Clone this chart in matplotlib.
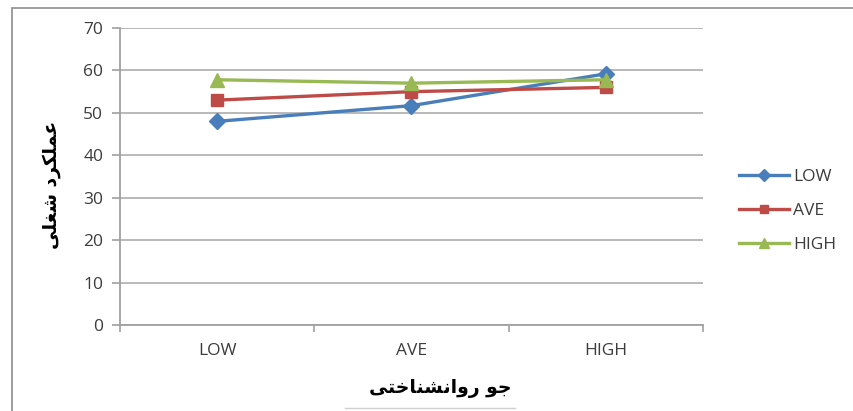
import matplotlib
matplotlib.use('Agg')
import matplotlib.pyplot as plt
from matplotlib.patches import Rectangle
from matplotlib.lines import Line2D

categories = ['LOW', 'AVE', 'HIGH']
low = [48, 51.7, 59.2]
ave = [53, 55, 56]
high = [57.8, 57, 57.8]
series_names = ['LOW', 'AVE', 'HIGH']

# Persian labels in presentation forms (matplotlib has no shaping), reversed for display
xlabel_shaped = '\uFE9F\uFEEE \uFEAD\uFEED\uFE8D\uFEE7\uFEB8\uFEE8\uFE8E\uFEA7\uFE98\uFBFD'
ylabel_shaped = '\uFECB\uFEE4\uFEE0\uFB91\uFEAE\uFEA9 \uFEB7\uFED0\uFEE0\uFBFD'

W, H = 854, 411
fig = plt.figure(figsize=(W / 100, H / 100), dpi=100)
fig.patch.set_facecolor('white')

# outer chart frame
fig.add_artist(Rectangle((12 / W, -0.1), 1.1, (H - 8) / H + 0.1, transform=fig.transFigure,
                         fill=False, edgecolor='#8c8c8c', linewidth=1.2))
fig.add_artist(Line2D([345 / W, 515 / W], [3 / H, 3 / H], transform=fig.transFigure,
                      color='#d0d0d0', linewidth=1))

ax = fig.add_axes([120 / W, (H - 325) / H, 583 / W, 297 / H])
x = [0, 1, 2]
ax.plot(x, low, color='#4a7ebb', lw=2.4, marker='D', ms=8.5, label=series_names[0])
ax.plot(x, ave, color='#be4b48', lw=2.4, marker='s', ms=8.5, label=series_names[1])
ax.plot(x, high, color='#98b954', lw=2.4, marker='^', ms=10, label=series_names[2])

ax.set_xlim(-0.5, 2.5)
ax.set_ylim(0, 70)
ax.set_yticks(range(0, 71, 10))
ax.set_xticks(x)
ax.set_xticklabels(categories)
ax.set_xticks([-0.5, 0.5, 1.5, 2.5], minor=True)
ax.tick_params(axis='x', which='major', length=0, pad=13)
ax.tick_params(axis='x', which='minor', length=5, color='#a0a0a0', width=1.2)
ax.tick_params(axis='y', length=6, color='#a0a0a0', width=1.2, pad=6)
for lab in ax.get_xticklabels() + ax.get_yticklabels():
    lab.set_fontfamily('Open Sans')
    lab.set_fontsize(12.5)
    lab.set_fontweight('medium')
    lab.set_color('#3c3c3c')

ax.yaxis.grid(True, color='#b3b3b3', linewidth=1.3)
ax.set_axisbelow(True)
for s in ['top', 'right']:
    ax.spines[s].set_visible(False)
for s in ['left', 'bottom']:
    ax.spines[s].set_color('#a0a0a0')
    ax.spines[s].set_linewidth(1.3)

fig.text(440 / W, 1 - 388 / H, xlabel_shaped[::-1], ha='center', va='center',
         fontsize=13.5, fontweight='bold', family='DejaVu Sans')
fig.text(52 / W, 1 - 185 / H, ylabel_shaped[::-1], ha='center', va='center', rotation=90,
         fontsize=13.5, fontweight='bold', family='DejaVu Sans')

leg = fig.legend(loc='center left', bbox_to_anchor=(723 / W, 1 - 211 / H), frameon=False,
                 prop={'family': 'Open Sans', 'size': 12.5, 'weight': 'medium'},
                 handlelength=2.9, markerscale=0.7, labelspacing=1.05, handletextpad=0.25)
for t in leg.get_texts():
    t.set_color('#3c3c3c')

fig.savefig('out.png', dpi=100)
